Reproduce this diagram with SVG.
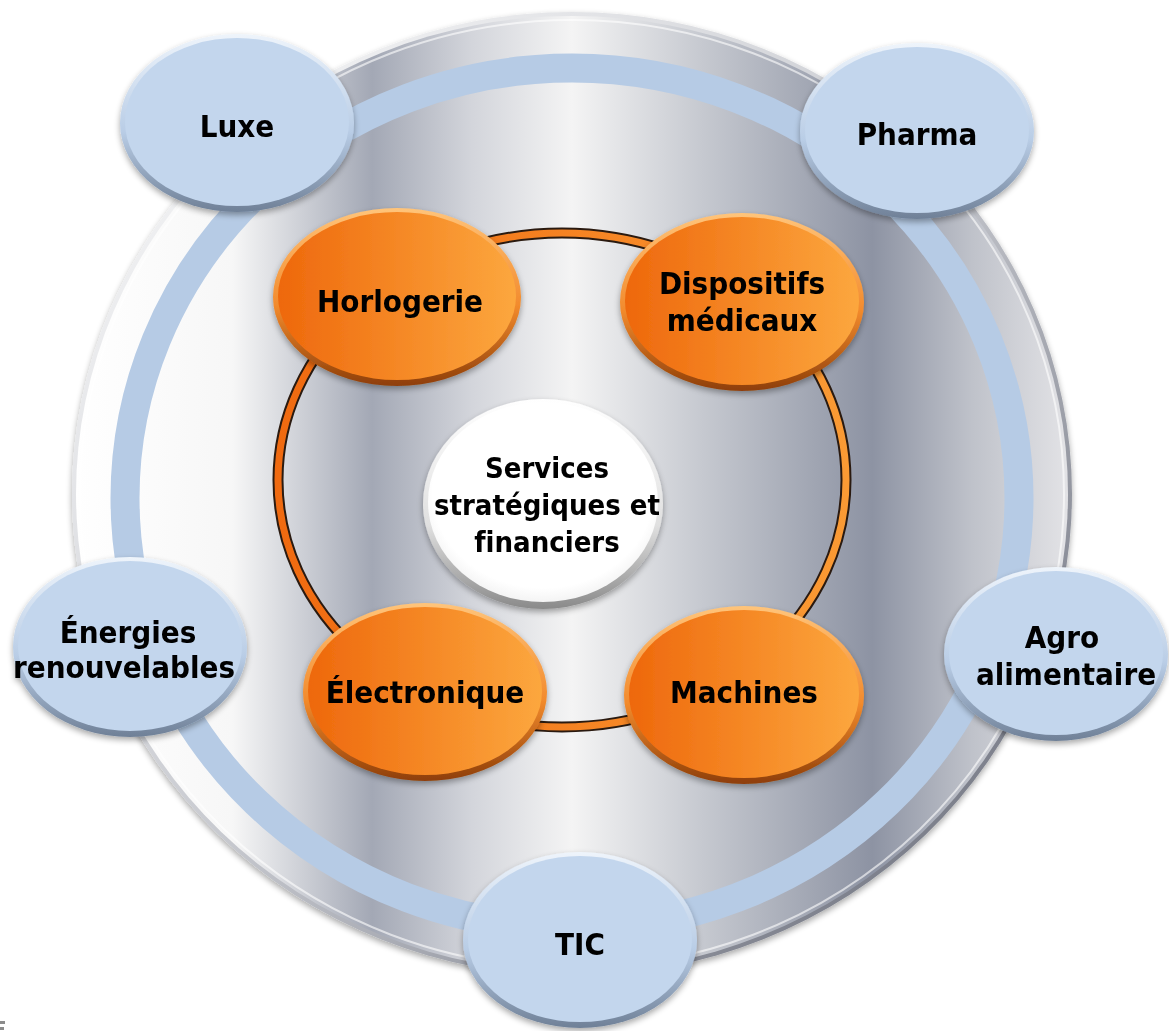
<svg xmlns="http://www.w3.org/2000/svg" width="1169" height="1031" viewBox="0 0 1169 1031">
<defs>
<linearGradient id="silver" gradientUnits="userSpaceOnUse" x1="72" y1="0" x2="1072" y2="0">
<stop offset="0" stop-color="#ffffff"/>
<stop offset="0.16" stop-color="#f7f7f7"/>
<stop offset="0.3" stop-color="#a3a8b5"/>
<stop offset="0.4" stop-color="#d3d5db"/>
<stop offset="0.5" stop-color="#f4f4f4"/>
<stop offset="0.63" stop-color="#c6c9d0"/>
<stop offset="0.8" stop-color="#8d93a3"/>
<stop offset="0.9" stop-color="#bfc2ca"/>
<stop offset="1" stop-color="#e4e4e7"/>
</linearGradient>
<linearGradient id="rimSilver" x1="0" y1="0" x2="1" y2="1">
<stop offset="0" stop-color="#ffffff"/>
<stop offset="0.5" stop-color="#c8cad0"/>
<stop offset="1" stop-color="#5e6270"/>
</linearGradient>
<linearGradient id="orange" x1="0" y1="0" x2="1" y2="0">
<stop offset="0" stop-color="#ee680c"/>
<stop offset="1" stop-color="#fca73e"/>
</linearGradient>
<linearGradient id="orangeRing" gradientUnits="userSpaceOnUse" x1="278" y1="0" x2="846" y2="0">
<stop offset="0" stop-color="#f06a10"/>
<stop offset="1" stop-color="#fa9a34"/>
</linearGradient>
<linearGradient id="orangeRim" x1="0" y1="0" x2="0" y2="1">
<stop offset="0" stop-color="#ffc47a"/>
<stop offset="0.55" stop-color="#f28a2c"/>
<stop offset="1" stop-color="#8e3e08"/>
</linearGradient>
<linearGradient id="blueRim" x1="0" y1="0" x2="0" y2="1">
<stop offset="0" stop-color="#eef4fb"/>
<stop offset="0.55" stop-color="#b9cde6"/>
<stop offset="1" stop-color="#6f8097"/>
</linearGradient>
<linearGradient id="whiteRim" x1="0" y1="0" x2="0" y2="1">
<stop offset="0" stop-color="#ffffff"/>
<stop offset="0.6" stop-color="#e0e0e0"/>
<stop offset="1" stop-color="#8a8a8a"/>
</linearGradient>
<radialGradient id="whiteFill" cx="0.5" cy="0.45" r="0.6">
<stop offset="0" stop-color="#ffffff"/>
<stop offset="0.8" stop-color="#ffffff"/>
<stop offset="1" stop-color="#ececec"/>
</radialGradient>
<filter id="shadow" x="-10%" y="-10%" width="120%" height="125%">
<feGaussianBlur in="SourceAlpha" stdDeviation="3"/>
<feOffset dx="0" dy="3" result="b"/>
<feComponentTransfer><feFuncA type="linear" slope="0.35"/></feComponentTransfer>
<feMerge><feMergeNode/><feMergeNode in="SourceGraphic"/></feMerge>
</filter>
</defs>
<style>
text{font-family:"DejaVu Sans Condensed","DejaVu Sans",Tahoma,sans-serif;font-weight:bold;font-stretch:condensed;fill:#000;text-anchor:middle;font-variant-ligatures:none;font-feature-settings:"liga" 0}
.lbl{font-size:31px}
.ctr{font-size:29px}
.blue .rim{fill:url(#blueRim)}
.blue .face{fill:#c3d6ed}
.org .rim{fill:url(#orangeRim)}
.org .face{fill:url(#orange)}
</style>

<g id="base-disc" filter="url(#shadow)">
<ellipse cx="572" cy="494" rx="500" ry="482" fill="url(#rimSilver)"/>
<ellipse cx="572" cy="494" rx="496" ry="478" fill="url(#silver)"/>
<ellipse cx="572" cy="494" rx="492" ry="474" fill="none" stroke="#ffffff" stroke-opacity="0.6" stroke-width="2"/>
<ellipse cx="572" cy="498" rx="447" ry="430" fill="none" stroke="#b6cbe5" stroke-width="29"/>
</g>

<g id="connectors">
<ellipse cx="562" cy="480" rx="284" ry="247" fill="none" stroke="#2a1a10" stroke-width="11"/>
<ellipse cx="562" cy="480" rx="284" ry="247" fill="none" stroke="url(#orangeRing)" stroke-width="7"/>
</g>

<g id="center" filter="url(#shadow)">
<ellipse cx="543" cy="504" rx="120" ry="105" fill="url(#whiteRim)"/>
<ellipse cx="543" cy="502" rx="115" ry="100" fill="url(#whiteFill)"/>
<text class="ctr" x="547" y="478">Services</text>
<text class="ctr" x="547" y="515">stratégiques et</text>
<text class="ctr" x="547" y="552">financiers</text>
</g>

<g id="horlogerie" class="org" filter="url(#shadow)">
<ellipse class="rim" cx="397" cy="297" rx="124" ry="89"/>
<ellipse class="face" cx="397" cy="296" rx="119" ry="84"/>
<text class="lbl" x="400" y="312">Horlogerie</text>
</g>
<g id="dispositifs" class="org" filter="url(#shadow)">
<ellipse class="rim" cx="742" cy="302" rx="122" ry="89"/>
<ellipse class="face" cx="742" cy="301" rx="117" ry="84"/>
<text class="lbl" x="742" y="294">Dispositifs</text>
<text class="lbl" x="742" y="331">médicaux</text>
</g>
<g id="electronique" class="org" filter="url(#shadow)">
<ellipse class="rim" cx="425" cy="692" rx="122" ry="89"/>
<ellipse class="face" cx="425" cy="691" rx="117" ry="84"/>
<text class="lbl" x="425" y="703">Électronique</text>
</g>
<g id="machines" class="org" filter="url(#shadow)">
<ellipse class="rim" cx="744" cy="695" rx="120" ry="89"/>
<ellipse class="face" cx="744" cy="694" rx="115" ry="84"/>
<text class="lbl" x="744" y="703">Machines</text>
</g>

<g id="luxe" class="blue" filter="url(#shadow)">
<ellipse class="rim" cx="237" cy="123" rx="117" ry="89"/>
<ellipse class="face" cx="237" cy="122" rx="112" ry="84"/>
<text class="lbl" x="237" y="137">Luxe</text>
</g>
<g id="pharma" class="blue" filter="url(#shadow)">
<ellipse class="rim" cx="917" cy="131" rx="117" ry="88"/>
<ellipse class="face" cx="917" cy="130" rx="112" ry="83"/>
<text class="lbl" x="917" y="145">Pharma</text>
</g>
<g id="energies" class="blue" filter="url(#shadow)">
<ellipse class="rim" cx="130" cy="647" rx="117" ry="90"/>
<ellipse class="face" cx="130" cy="646" rx="112" ry="85"/>
<text class="lbl" x="128" y="643">Énergies</text>
<text class="lbl" x="124" y="678">renouvelables</text>
</g>
<g id="agro" class="blue" filter="url(#shadow)">
<ellipse class="rim" cx="1056" cy="654" rx="112" ry="87"/>
<ellipse class="face" cx="1056" cy="653" rx="107" ry="82"/>
<text class="lbl" x="1062" y="648">Agro</text>
<text class="lbl" x="1066" y="685">alimentaire</text>
</g>
<g id="tic" class="blue" filter="url(#shadow)">
<ellipse class="rim" cx="580" cy="940" rx="117" ry="88"/>
<ellipse class="face" cx="580" cy="939" rx="112" ry="83"/>
<text class="lbl" x="580" y="955">TIC</text>
</g>

<g id="corner-marks">
<rect x="0" y="1021" width="5" height="3" fill="#8c8c8c"/>
<rect x="0" y="1027" width="4" height="3" fill="#8c8c8c"/>
</g>
</svg>
